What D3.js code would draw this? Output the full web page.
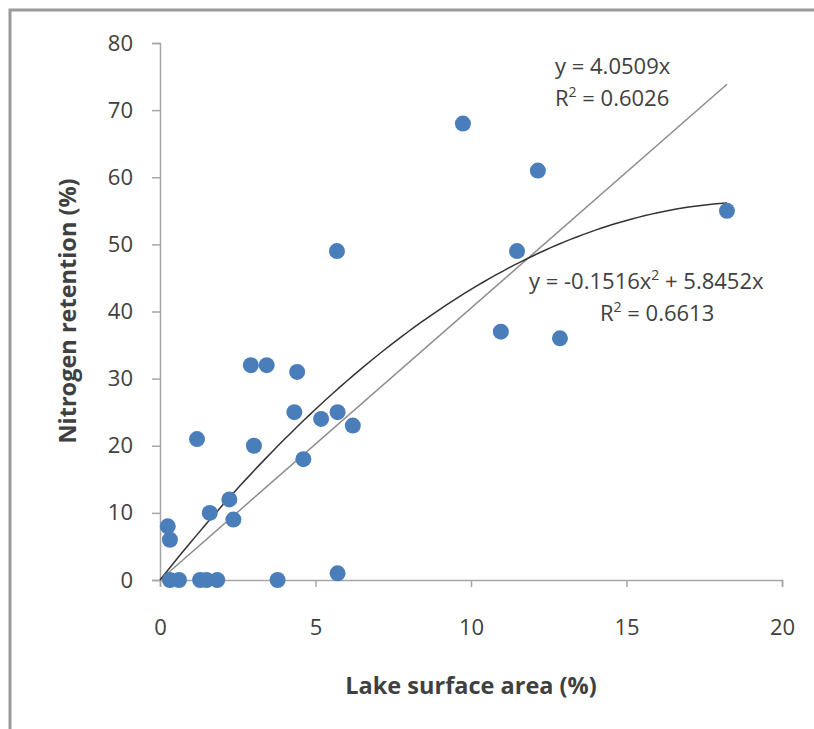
<!DOCTYPE html>
<html>
<head>
<meta charset="utf-8">
<script src="https://cdn.jsdelivr.net/npm/d3@7"></script>
<style>
  body { margin: 0; background: #fff; }
  text { font-family: "Open Sans", sans-serif; fill: #404040; }
</style>
</head>
<body>
<script>
// lake surface area (%) vs nitrogen retention (%)
var lakeArea = [0.25, 0.32, 1.6, 2.23, 2.36, 5.71, 0.32, 0.61, 1.29, 1.5, 1.84, 3.78,
                2.92, 3.43, 4.41, 4.32, 5.18, 5.71, 6.2, 3.02, 4.61, 1.19, 5.69,
                9.74, 12.15, 11.48, 10.96, 12.86, 18.23];
var retention = [8, 6, 10, 12, 9, 1, 0, 0, 0, 0, 0, 0,
                 32, 32, 31, 25, 24, 25, 23, 20, 18, 21, 49,
                 68, 61, 49, 37, 36, 55];
var xTicks = [0, 5, 10, 15, 20];
var yTicks = [0, 10, 20, 30, 40, 50, 60, 70, 80];
var linCoef = 4.0509;
var polyCoef = [-0.1516, 5.8452];

var svg = d3.select("body").append("svg")
    .attr("width", 814).attr("height", 729);

// frame
svg.append("rect").attr("x", 10).attr("y", 10).attr("width", 820).attr("height", 730)
    .attr("fill", "none").attr("stroke", "#9a9a9a").attr("stroke-width", 3);

var x = d3.scaleLinear().domain([0, 20]).range([160, 782]);
var y = d3.scaleLinear().domain([0, 80]).range([580, 43]);

// axes
var xAxis = svg.append("g").attr("transform", "translate(0,580)")
    .call(d3.axisBottom(x).tickValues(xTicks).tickSize(7).tickPadding(32));
var yAxis = svg.append("g").attr("transform", "translate(160,0)")
    .call(d3.axisLeft(y).tickValues(yTicks).tickSize(8).tickPadding(19));
[xAxis, yAxis].forEach(function(a) {
    a.select(".domain").attr("stroke", "#a6a6a6").attr("stroke-width", 1.5);
    a.selectAll(".tick line").attr("stroke", "#a6a6a6").attr("stroke-width", 1.5);
    a.selectAll("text").style("font-size", "22px").attr("fill", "#404040");
});

// trendlines
var xMax = d3.max(lakeArea);
var linPts = [0, xMax].map(function(v) { return [v, linCoef * v]; });
var polyPts = d3.range(0, xMax + 0.001, 0.2).concat([xMax]).map(function(v) {
    return [v, polyCoef[0] * v * v + polyCoef[1] * v];
});
var line = d3.line().x(function(d) { return x(d[0]); }).y(function(d) { return y(d[1]); });

svg.append("path").attr("d", line(linPts)).attr("fill", "none")
    .attr("stroke", "#8c8c8c").attr("stroke-width", 1.5);
svg.append("path").attr("d", line(polyPts)).attr("fill", "none")
    .attr("stroke", "#333").attr("stroke-width", 1.5);

// points
svg.selectAll("circle.pt")
    .data(lakeArea.map(function(v, i) { return [v, retention[i]]; }))
    .enter()
    .append("circle")
    .attr("class", "pt")
    .attr("cx", function(d) { return x(d[0]); })
    .attr("cy", function(d) { return y(d[1]); })
    .attr("r", 8)
    .attr("fill", "#4a7ebb");

// equation labels
function eq(px, py, parts) {
    var t = svg.append("text").attr("x", px).attr("y", py).style("font-size", "22px");
    parts.forEach(function(p) {
        var s = t.append("tspan").text(p[0]);
        if (p[1]) s.attr("baseline-shift", "super").style("font-size", "14px");
    });
}
eq(555, 74, [["y = 4.0509x"]]);
eq(555, 106, [["R"], ["2", true], [" = 0.6026"]]);
eq(529, 289, [["y = -0.1516x"], ["2", true], [" + 5.8452x"]]);
eq(600, 321, [["R"], ["2", true], [" = 0.6613"]]);

// axis titles
svg.append("text").attr("x", 471).attr("y", 694).attr("text-anchor", "middle")
    .style("font-size", "23.5px").style("font-weight", "bold").text("Lake surface area (%)");
svg.append("text").attr("transform", "translate(76,311) rotate(-90)").attr("text-anchor", "middle")
    .style("font-size", "23.5px").style("font-weight", "bold").text("Nitrogen retention (%)");
</script>
</body>
</html>
